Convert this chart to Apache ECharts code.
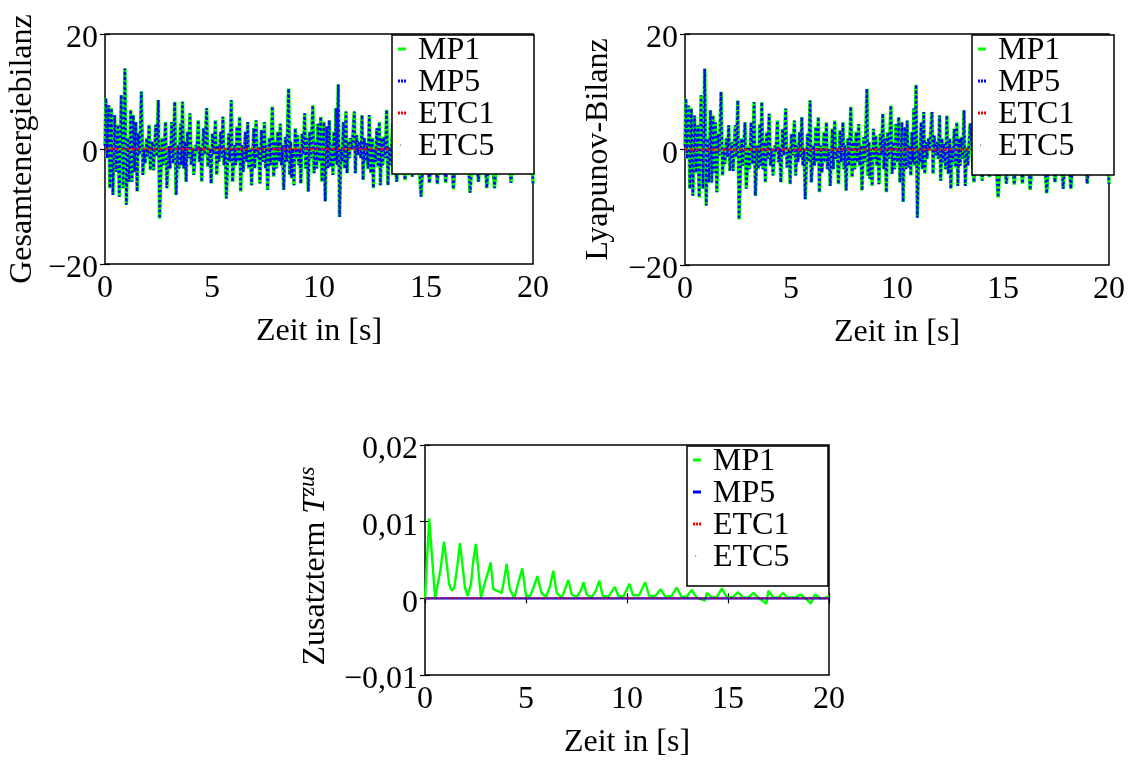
<!DOCTYPE html>
<html>
<head>
<meta charset="utf-8">
<title>Energiebilanzen</title>
<script src="https://cdn.jsdelivr.net/npm/echarts@6/dist/echarts.min.js"></script>
<style>
  html, body { margin: 0; padding: 0; background: #fff; }
  #chart { width: 1128px; height: 760px; }
</style>
</head>
<body>
<div id="chart"></div>
<script>
// Time axis ticks shared by all three panels
const zeitTicks = [0, 5, 10, 15, 20];
const legendNames = ['MP1', 'MP5', 'ETC1', 'ETC5'];

// Total energy balance for the MP runs, [t in s, value]
const bilanzMP1 = [
  [0.00, 0.5], [0.04, 8.8], [0.10, -1.6], [0.17, 7.6], [0.23, -6.8], [0.30, 7.1], [0.37, -8.0],
  [0.45, 5.9], [0.52, -4.0], [0.60, 4.2], [0.67, -8.3], [0.76, 9.4], [0.85, -6.8], [0.93, 14.0],
  [1.00, -9.7], [1.07, 1.9], [1.13, -5.7], [1.20, 6.8], [1.26, -5.7], [1.32, 5.9], [1.38, -4.0],
  [1.44, 4.7], [1.50, -7.4], [1.56, 2.7], [1.62, -1.0], [1.70, 10.0], [1.77, -4.5], [1.83, 0.2],
  [1.88, -2.5], [1.95, 1.9], [2.00, -1.3], [2.06, 4.2], [2.12, -3.7], [2.21, 1.3], [2.27, -3.7],
  [2.37, 4.2], [2.42, -1.3], [2.49, 8.5], [2.55, -12.1], [2.66, 1.9], [2.72, -2.8], [2.83, 4.7],
  [2.89, -6.8], [2.99, 0.5], [3.04, -3.4], [3.12, 4.7], [3.18, -2.5], [3.26, 8.2], [3.32, -8.0],
  [3.41, 0.7], [3.46, -3.4], [3.53, 4.4], [3.57, -2.8], [3.62, 8.2], [3.68, -3.4], [3.74, 1.3],
  [3.79, -5.7], [3.85, 3.0], [3.90, -1.6], [3.97, 6.2], [4.03, -2.8], [4.10, 0.1], [4.15, -4.5],
  [4.24, 0.7], [4.29, -0.4], [4.36, 5.0], [4.41, -2.2], [4.47, 0.3], [4.52, -5.7], [4.60, 3.6],
  [4.66, -1.0], [4.75, 7.1], [4.81, -3.1], [4.91, 0.1], [4.96, -6.0], [5.02, 2.7], [5.08, -1.0],
  [5.16, 5.0], [5.22, -4.5], [5.28, 0.7], [5.33, -2.2], [5.40, 3.0], [5.45, -1.5], [5.51, 5.6],
  [5.56, -2.8], [5.62, 0.1], [5.67, -8.6], [5.78, 2.7], [5.83, -2.2], [5.90, 8.5], [5.96, -5.7],
  [6.06, 0.7], [6.11, -2.8], [6.17, 3.9], [6.22, -2.2], [6.29, 5.6], [6.34, -7.4], [6.40, 0.7],
  [6.46, -4.0], [6.56, 3.0], [6.61, -2.2], [6.67, 4.7], [6.72, -3.4], [6.79, 0.1], [6.85, -6.3],
  [6.95, 3.6], [7.00, -3.4], [7.06, 5.0], [7.11, -1.6], [7.18, 0.3], [7.24, -6.0], [7.31, 3.3],
  [7.37, -2.2], [7.45, 4.7], [7.50, -3.4], [7.54, 0.7], [7.60, -7.1], [7.68, 1.9], [7.74, -2.8],
  [7.82, 7.4], [7.88, -4.8], [7.96, 1.3], [8.01, -3.4], [8.07, 3.0], [8.13, -2.2], [8.19, 4.4],
  [8.24, -2.8], [8.29, 0.7], [8.35, -7.1], [8.43, 2.1], [8.49, -2.2], [8.58, 10.5], [8.63, -4.5],
  [8.68, 1.3], [8.72, -5.1], [8.77, 0.1], [8.83, -6.3], [8.89, 3.6], [8.94, -1.6], [9.00, 2.4],
  [9.05, -2.8], [9.10, 0.1], [9.15, -6.0], [9.21, 2.7], [9.27, -1.0], [9.33, 6.2], [9.38, -3.4],
  [9.44, 1.9], [9.50, -7.4], [9.56, 3.0], [9.62, -1.6], [9.71, 7.6], [9.77, -4.2], [9.83, 1.3],
  [9.89, -3.4], [9.95, 4.4], [10.01, -2.2], [10.08, 5.6], [10.14, -5.7], [10.23, 4.7], [10.29, -9.1],
  [10.36, 3.9], [10.42, -3.4], [10.48, 5.0], [10.54, -3.1], [10.61, 0.7], [10.65, -4.5], [10.70, 3.0],
  [10.75, -2.2], [10.79, 7.1], [10.84, -2.8], [10.90, 11.2], [10.96, -11.8], [11.03, 0.0], [11.08, -2.2],
  [11.14, 4.7], [11.20, -3.4], [11.26, 6.5], [11.31, -4.2], [11.37, 1.3], [11.42, -1.6], [11.48, 1.9],
  [11.54, -0.1], [11.65, 6.5], [11.70, -4.2], [11.76, 2.4], [11.82, -1.0], [11.89, 1.3], [11.95, -1.6],
  [12.01, 5.9], [12.06, -5.4], [12.12, 1.9], [12.17, -2.2], [12.23, 1.0], [12.29, -3.4], [12.35, 5.9],
  [12.42, -4.2], [12.49, 1.9], [12.54, -6.8], [12.59, 0.1], [12.64, -2.2], [12.70, 3.6], [12.76, -3.1],
  [12.82, 4.7], [12.87, -6.3], [12.93, 1.9], [12.98, -2.8], [13.04, 2.1], [13.10, -1.6], [13.16, 6.8],
  [13.22, -6.3], [13.29, 0.4], [13.34, -2.8], [13.45, 4.5], [13.63, -5.7], [13.82, 5.0], [14.02, -5.4],
  [14.20, 3.8], [14.36, -4.8], [14.55, 5.5], [14.77, -8.3], [14.95, 4.0], [15.16, -5.9], [15.35, 4.5],
  [15.53, -6.1], [15.72, 3.5], [15.92, -5.9], [16.10, 4.8], [16.28, -7.0], [16.48, 3.2], [16.67, -3.0],
  [16.86, 5.0], [17.06, -7.6], [17.25, 3.8], [17.45, -5.7], [17.65, 4.2], [17.84, -6.8], [18.02, 3.5],
  [18.20, -6.8], [18.40, 3.0], [18.58, -3.0], [18.78, 4.5], [18.97, -5.9], [19.20, 3.0], [19.40, -3.0],
  [19.70, 3.5], [19.90, 3.0], [20.00, -6.0]
];
// MP5 runs on top of MP1 in both balances
const bilanzMP5 = bilanzMP1;
// The Lyapunov balance follows the total energy balance
const lyapunovMP1 = bilanzMP1;
const lyapunovMP5 = bilanzMP1;
// Event-triggered runs stay at zero
const bilanzETC1 = [[0, 0], [20, 0]];
const bilanzETC5 = [[0, 0], [20, 0]];

// Additional term T^zus, [t in s, value]
const zusatzMP1 = [
  [0, 0], [0.21, 0.0104], [0.50, 0.0], [0.60, 0.0014], [0.77, 0.0038], [0.94, 0.0074], [1.20, 0.0018],
  [1.32, 0.0010], [1.45, 0.0014], [1.60, 0.0042], [1.73, 0.0072], [1.98, 0.0014], [2.11, 0.0003],
  [2.27, 0.0018], [2.40, 0.0051], [2.52, 0.0071], [2.77, 0.0001], [2.97, 0.0021], [3.13, 0.0035],
  [3.25, 0.0047], [3.38, 0.0012], [3.63, 0.0009], [3.80, 0.0007], [3.92, 0.0025], [4.04, 0.0045],
  [4.20, 0.0012], [4.42, 0.0], [4.62, 0.0021], [4.82, 0.0039], [5.00, 0.0003], [5.20, 0.0003],
  [5.40, 0.0016], [5.56, 0.0029], [5.77, 0.0007], [5.99, 0.0002], [6.19, 0.0016], [6.35, 0.0036],
  [6.52, 0.0007], [6.77, 0.0001], [6.93, 0.0012], [7.10, 0.0024], [7.26, 0.0005], [7.51, 0.0002],
  [7.71, 0.0010], [7.85, 0.0021], [8.00, 0.0005], [8.25, 0.0001], [8.46, 0.0010], [8.63, 0.0023],
  [8.80, 0.0003], [9.07, 0.0002], [9.40, 0.0015], [9.57, 0.0003], [9.82, 0.0002], [10.12, 0.0019],
  [10.30, 0.0004], [10.60, 0.0004], [10.90, 0.0021], [11.10, 0.0003], [11.40, 0.0003], [11.67, 0.0012],
  [11.90, 0.0002], [12.20, 0.0003], [12.46, 0.0014], [12.70, 0.0002], [12.95, 0.0002], [13.20, 0.0011],
  [13.45, 0.0001], [13.86, -0.0003], [13.95, 0.0007], [14.20, 0.0001], [14.45, 0.0002], [14.70, 0.0013],
  [14.95, 0.0001], [15.25, 0.0002], [15.50, 0.0008], [15.75, 0.0001], [16.00, 0.0001], [16.25, 0.0007],
  [16.50, 0.0001], [16.90, -0.0007], [17.00, 0.0010], [17.25, 0.0001], [17.50, 0.0001], [17.72, 0.0007],
  [17.95, 0.0001], [18.30, 0.0001], [18.60, 0.0005], [18.85, 0.0], [19.10, -0.0007], [19.30, 0.0005],
  [19.60, 0.0], [19.85, 0.0001], [20.00, 0.0003]
];
const zusatzMP5 = [[0, 0], [20, 0]];
const zusatzETC1 = [[0, 0], [20, 0]];
const zusatzETC5 = [[0, 0], [20, 0]];

const FONT = 'Liberation Serif';
const BLACK = '#000';
const GREEN = '#00ff00';
const BLUE = '#0000ff';
const RED = '#ff0000';

const grids = [
  { left: 105, top: 34, width: 428, height: 230 },
  { left: 685, top: 34, width: 429, height: 231 },
  { left: 425, top: 445, width: 404, height: 232 }
];

// Legend frames (white boxes behind each legend)
const legendBoxes = [
  { x: 392, y: 35, width: 142, height: 139 },
  { x: 972, y: 35, width: 142, height: 140 },
  { x: 687, y: 446, width: 141, height: 140 }
];

function fmtNum(v, digits) {
  if (Math.abs(v) < 1e-12) return '0';
  let s = digits ? v.toFixed(digits).replace('.', ',') : String(Math.round(v));
  return s.replace('-', '\u2212');
}

const tick = { show: true, inside: true, length: 5, lineStyle: { color: BLACK, width: 1.2 } };
const labelStyle = { fontFamily: FONT, fontSize: 32, color: BLACK };

const xAxes = [];
const yAxes = [];
const yRanges = [
  { min: -20, max: 20, interval: 20, digits: 0 },
  { min: -20, max: 20, interval: 20, digits: 0 },
  { min: -0.01, max: 0.02, interval: 0.01, digits: 2 }
];
const yNames = ['Gesamtenergiebilanz', 'Lyapunov-Bilanz', 'Zusatzterm {it|T}{sup|zus}'];
const yNameGaps = [66, 70, 90];
const yNamePads = [[0, 0, 0, 0], [0, 0, 0, 0], [0, 12, 0, 0]];

grids.forEach((g, i) => {
  const xBase = {
    gridIndex: i, type: 'value', min: zeitTicks[0], max: zeitTicks[zeitTicks.length - 1],
    interval: zeitTicks[1] - zeitTicks[0],
    axisLine: { show: false }, splitLine: { show: false }, axisTick: tick
  };
  xAxes.push(Object.assign({}, xBase, {
    position: 'bottom',
    name: 'Zeit in [s]', nameLocation: 'middle', nameGap: 52,
    nameTextStyle: labelStyle,
    axisLabel: Object.assign({ margin: 9, formatter: v => fmtNum(v, 0) }, labelStyle)
  }));
  xAxes.push(Object.assign({}, xBase, { position: 'top', axisLabel: { show: false } }));

  const r = yRanges[i];
  const yBase = {
    gridIndex: i, type: 'value', min: r.min, max: r.max, interval: r.interval,
    axisLine: { show: false }, splitLine: { show: false }, axisTick: tick
  };
  yAxes.push(Object.assign({}, yBase, {
    position: 'left',
    name: yNames[i], nameLocation: 'middle', nameRotate: 90, nameGap: yNameGaps[i],
    nameTextStyle: Object.assign({}, labelStyle, {
      padding: yNamePads[i],
      rich: {
        it: { fontFamily: FONT, fontSize: 32, fontStyle: 'italic', color: BLACK },
        sup: { fontFamily: FONT, fontSize: 23, fontStyle: 'italic', color: BLACK, verticalAlign: 'top', padding: [0, 0, 16, 0] }
      }
    }),
    axisLabel: Object.assign({ margin: 7, verticalAlign: 'top', lineHeight: 10, formatter: v => fmtNum(v, r.digits) }, labelStyle)
  }));
  yAxes.push(Object.assign({}, yBase, { position: 'right', axisLabel: { show: false } }));
});

function lineSeries(name, gi, data, color, width, type, z) {
  return {
    name, type: 'line', xAxisIndex: 2 * gi, yAxisIndex: 2 * gi, data,
    showSymbol: false, symbol: 'none', animation: false, z: z || 2,
    lineStyle: { color, width, type: type || 'solid' },
    itemStyle: { color }
  };
}

const series = [
  lineSeries('MP1', 0, bilanzMP1, GREEN, 3.6),
  lineSeries('MP5', 0, bilanzMP5, BLUE, 2.4, [2.4, 2.6]),
  lineSeries('ETC1', 0, bilanzETC1, RED, 2.4, [2.6, 2.8]),
  lineSeries('ETC5', 0, bilanzETC5, '#555', 0.6, 'dotted'),
  lineSeries('MP1', 1, lyapunovMP1, GREEN, 3.6),
  lineSeries('MP5', 1, lyapunovMP5, BLUE, 2.4, [2.4, 2.6]),
  lineSeries('ETC1', 1, bilanzETC1, RED, 2.4, [2.6, 2.8]),
  lineSeries('ETC5', 1, bilanzETC5, '#555', 0.6, 'dotted'),
  lineSeries('MP1', 2, zusatzMP1, GREEN, 2.4),
  lineSeries('MP5', 2, zusatzMP5, BLUE, 2.2),
  lineSeries('ETC1', 2, zusatzETC1, RED, 2, [2, 2.4]),
  lineSeries('ETC5', 2, zusatzETC5, '#555', 0.6, 'dotted')
];

// Legend glyphs: short solid dash, row of dots, single faint dot
const ICON_SOLID = 'path://M0,0h8v3h-8z';
const ICON_DOTS = 'path://M0,0h2v3h-2zM3,0h2v3h-2zM6,0h2v3h-2z';
const ICON_DOT = 'path://M0,0L0,0M8,3L8,3M2,1h1.2v1.2h-1.2z';

function legendItems(mp5Solid) {
  const items = {
    MP1: { icon: ICON_SOLID, color: GREEN },
    MP5: { icon: mp5Solid ? ICON_SOLID : ICON_DOTS, color: BLUE },
    ETC1: { icon: ICON_DOTS, color: RED },
    ETC5: { icon: ICON_DOT, color: '#777' }
  };
  return legendNames.map(n => ({ name: n, icon: items[n].icon, itemStyle: { color: items[n].color, borderWidth: 0 } }));
}

function legendAt(box, mp5Solid) {
  return {
    left: box.x, top: box.y, orient: 'vertical', itemWidth: 8, itemHeight: 3, itemGap: 0,
    padding: [0, 0, 0, 6], z: 5,
    selectedMode: false,
    formatter: '{t|{name}}',
    textStyle: {
      fontFamily: FONT, fontSize: 32, color: BLACK,
      rich: { t: { fontFamily: FONT, fontSize: 32, color: BLACK, padding: [4, 0, 0, 7] } }
    },
    data: legendItems(mp5Solid)
  };
}

const chart = echarts.init(document.getElementById('chart'), null, { renderer: 'canvas' });
chart.setOption({
  backgroundColor: '#fff',
  animation: false,
  grid: grids.map(g => Object.assign({ show: true, borderColor: BLACK, borderWidth: 1.5, backgroundColor: 'transparent' }, g)),
  xAxis: xAxes,
  yAxis: yAxes,
  graphic: legendBoxes.map(b => ({
    type: 'rect', z: 4, silent: true,
    shape: { x: b.x, y: b.y, width: b.width, height: b.height },
    style: { fill: '#fff', stroke: BLACK, lineWidth: 1.5 }
  })),
  legend: [
    legendAt(legendBoxes[0], false),
    legendAt(legendBoxes[1], false),
    legendAt(legendBoxes[2], true)
  ],
  series
});
</script>
</body>
</html>
